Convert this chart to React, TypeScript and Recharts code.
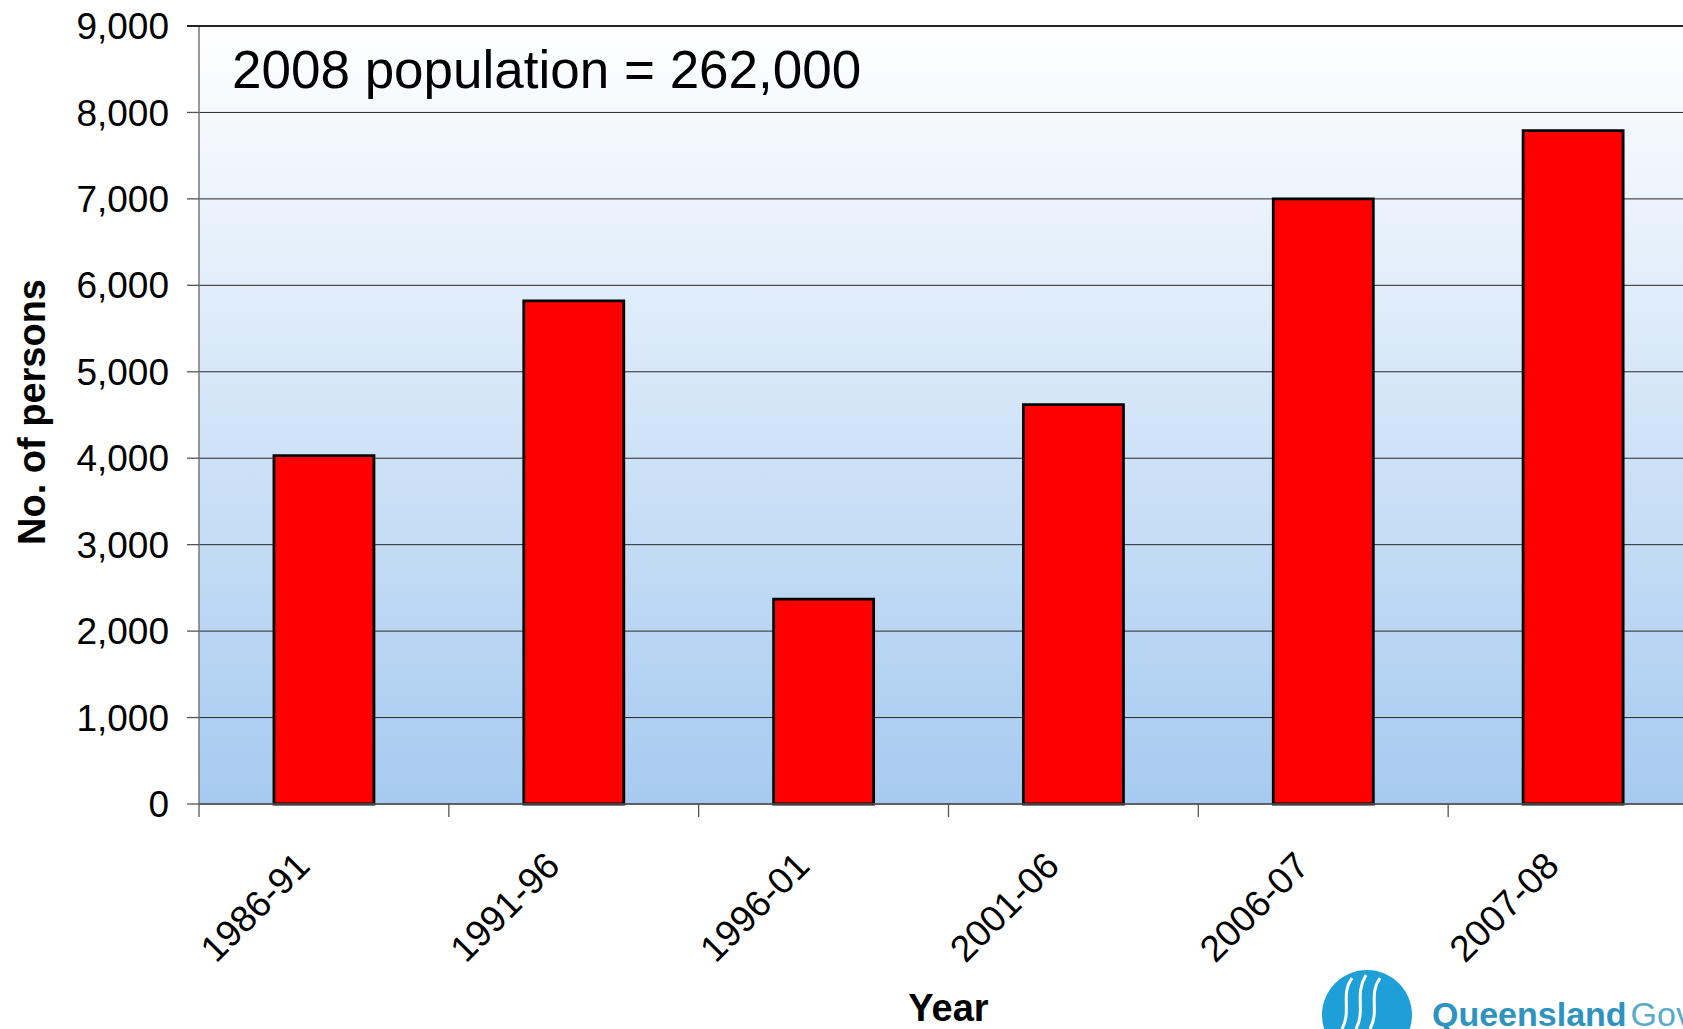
import React from 'react'
import { BarChart, Bar, XAxis, YAxis, CartesianGrid, Label } from 'recharts'

const years = ['1986-91', '1991-96', '1996-01', '2001-06', '2006-07', '2007-08']
const persons = [4030, 5820, 2370, 4620, 7000, 7790]
const yTicks = [0, 1000, 2000, 3000, 4000, 5000, 6000, 7000, 8000, 9000]

const data = years.map((year, i) => ({ year, persons: persons[i] }))

const FONT = '"Liberation Sans", Arial, Helvetica, sans-serif'

// category ticks sit on the band edges, labels slanted under each bar
function YearTick(props: any) {
  const { x, y, payload } = props
  const half = payload && payload.offset > 0 ? payload.offset : 125
  const lx = x - 12
  const ly = y + 64
  return (
    <g>
      <line x1={x - half} x2={x - half} y1={y} y2={y + 13} stroke="#555" strokeWidth={1.3} />
      <text
        x={lx}
        y={ly}
        textAnchor="end"
        transform={`rotate(-45, ${lx}, ${ly})`}
        fontSize={37}
        fontFamily={FONT}
        fill="#000"
      >
        {payload.value}
      </text>
    </g>
  )
}

export default function App() {
  return (
    <div style={{ position: 'fixed', left: 0, top: 0, width: 1683, height: 1029, overflow: 'hidden', background: '#fff' }}>
      <BarChart
        width={1720}
        height={1029}
        data={data}
        margin={{ top: 26, right: 22, left: 0, bottom: 0 }}
        barCategoryGap="30%"
      >
        <defs>
          <linearGradient id="plotBg" x1="0" y1="0" x2="0" y2="1">
            <stop offset="0%" stopColor="#ffffff" />
            <stop offset="100%" stopColor="#a6caf0" />
          </linearGradient>
        </defs>
        <CartesianGrid vertical={false} stroke="#2a2a2a" fill="url(#plotBg)" fillOpacity={1} />
        <XAxis
          dataKey="year"
          height={225}
          tickLine={false}
          tickSize={0}
          tickMargin={0}
          interval={0}
          axisLine={{ stroke: '#555', strokeWidth: 1.3 }}
          tick={<YearTick />}
        >
          <Label
            content={({ viewBox }: any) => (
              <text
                x={viewBox.x + viewBox.width / 2}
                y={1021}
                textAnchor="middle"
                fontSize={38}
                fontWeight="bold"
                fontFamily={FONT}
                fill="#000"
              >
                Year
              </text>
            )}
          />
        </XAxis>
        <YAxis
          width={199}
          domain={[0, 9000]}
          ticks={yTicks}
          interval={0}
          tickSize={12}
          tickMargin={18}
          tickFormatter={(v: number) => v.toLocaleString('en-US')}
          tick={{ fontSize: 37, fill: '#000', fontFamily: FONT }}
          tickLine={{ stroke: '#555', strokeWidth: 1.3 }}
          axisLine={{ stroke: '#777', strokeWidth: 1.5 }}
        >
          <Label
            content={({ viewBox }: any) => {
              const cx = 45
              const cy = viewBox.y + viewBox.height / 2 - 3
              return (
                <text
                  x={cx}
                  y={cy}
                  textAnchor="middle"
                  transform={`rotate(-90, ${cx}, ${cy})`}
                  fontSize={38}
                  fontWeight="bold"
                  fontFamily={FONT}
                  fill="#000"
                >
                  No. of persons
                </text>
              )
            }}
          />
        </YAxis>
        <Bar dataKey="persons" fill="#ff0000" stroke="#000" strokeWidth={2.8} isAnimationActive={false} />
      </BarChart>

      <svg width={1683} height={1029} style={{ position: 'absolute', left: 0, top: 0, pointerEvents: 'none' }}>
        <line x1={187} x2={1683} y1={26} y2={26} stroke="#000" strokeWidth={1.5} />
        <text x={232} y={88} fontSize={53} fontFamily={FONT} fill="#000">
          2008 population = 262,000
        </text>
        <g>
          <circle cx={1367} cy={1015} r={45} fill="#1e9fd8" />
          <path d="M1342 1029 C1352 1010, 1340 995, 1352 978" stroke="#fff" strokeWidth={3} fill="none" />
          <path d="M1356 1029 C1366 1010, 1354 995, 1366 975" stroke="#fff" strokeWidth={3} fill="none" />
          <path d="M1370 1029 C1380 1010, 1368 995, 1380 978" stroke="#fff" strokeWidth={3} fill="none" />
          <text x={1432} y={1026} fontSize={34} fontFamily={FONT} fill="#2e93be">
            <tspan fontWeight="bold">Queensland</tspan>
            <tspan dx={4} fill="#5aaacb">Government</tspan>
          </text>
        </g>
      </svg>
    </div>
  )
}
